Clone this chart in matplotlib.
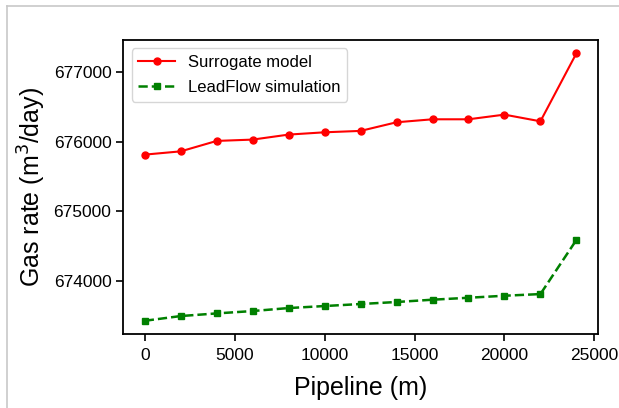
import matplotlib
matplotlib.use("Agg")
import matplotlib.pyplot as plt
from matplotlib.lines import Line2D

plt.rcParams['font.family'] = ['Liberation Sans', 'DejaVu Sans']

pipeline = [0, 2000, 4000, 6000, 8000, 10000, 12000, 14000, 16000, 18000, 20000, 22000, 24000]
surrogate = [675813, 675860, 676010, 676029, 676101, 676134, 676154, 676278, 676321, 676321, 676388, 676292, 677269]
leadflow = [673424, 673492, 673530, 673564, 673607, 673636, 673665, 673694, 673727, 673755, 673784, 673808, 674586]

fig = plt.figure(figsize=(6.19, 4.08), dpi=100)
ax = fig.add_axes([0.199, 0.181, 0.767, 0.721])

ax.plot(pipeline, surrogate, color='red', linestyle='-', marker='o', markersize=5,
        linewidth=1.5, label='Surrogate model')
ax.plot(pipeline, leadflow, color='green', linestyle='--', marker='s', markersize=5,
        linewidth=1.8, label='LeadFlow simulation')

ax.set_xticks([0, 5000, 10000, 15000, 20000, 25000])
ax.set_yticks([674000, 675000, 676000, 677000])
ax.tick_params(axis='both', labelsize=12.5, length=5, width=1.2)
ax.tick_params(axis='x', pad=5)
for s in ax.spines.values():
    s.set_linewidth(1.3)
ax.set_xlabel('Pipeline (m)', fontsize=18, labelpad=9)
ax.set_ylabel('Gas rate (m$^3$/day)', fontsize=18)
ax.legend(loc='upper left', fontsize=12, handlelength=2.2, labelspacing=0.6)

fig.add_artist(Line2D([7/619, 1.0], [1 - 6/408, 1 - 6/408], transform=fig.transFigure,
                      color='#c8c8c8', linewidth=1.2))
fig.add_artist(Line2D([7/619, 7/619], [0, 1 - 6/408], transform=fig.transFigure,
                      color='#c8c8c8', linewidth=1.2))

fig.savefig('out.png', dpi=100)
